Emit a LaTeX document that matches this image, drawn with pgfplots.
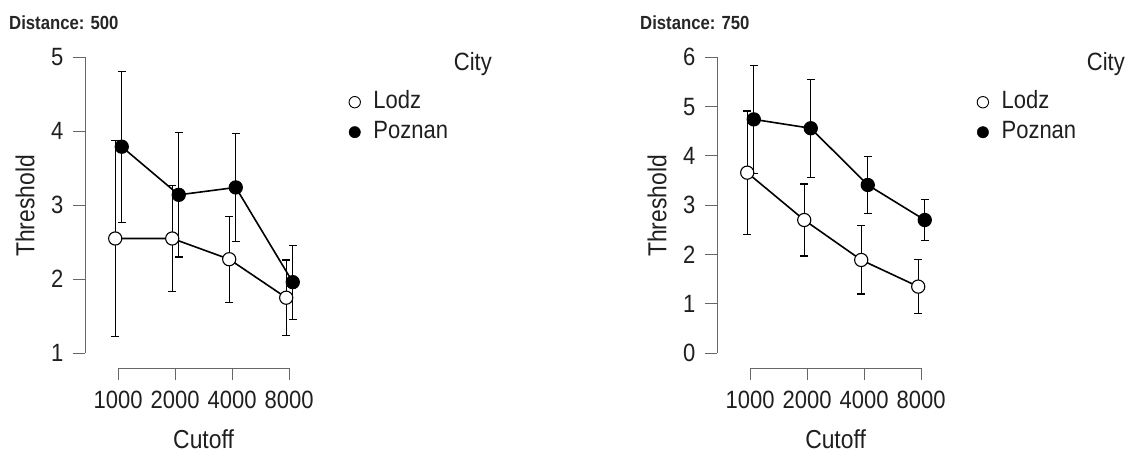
\documentclass[border=0pt]{standalone}
\usepackage{pgfplots}
\pgfplotsset{compat=1.18}
\usepackage{pgfplotstable}
\usepackage{fontspec}
\setmainfont{Liberation Sans}[FakeStretch=0.88]
\usetikzlibrary{calc}

\pgfplotstableread{
x y e
-0.05 2.55 1.33
0.95 2.55 0.72
1.95 2.27 0.58
2.95 1.75 0.51
}\lodzA
\pgfplotstableread{
x y e
0.065 3.79 1.02
1.065 3.14 0.84
2.065 3.24 0.73
3.065 1.96 0.50
}\poznanA
\pgfplotstableread{
x y e
-0.05 3.66 1.25
0.95 2.70 0.73
1.95 1.89 0.69
2.95 1.35 0.55
}\lodzB
\pgfplotstableread{
x y e
0.065 4.74 1.10
1.065 4.56 0.99
2.065 3.41 0.58
3.065 2.70 0.41
}\poznanB

\pgfplotsset{
 rstyle/.style={
  x=57pt,
  xmin=-0.58, xmax=3.4,
  axis lines*=left,
  axis line style={draw=none},
  tick align=outside,
  major tick length=12pt,
  tick style={black!60, line width=0.9pt},
  xtick={0,1,2,3}, xticklabels={1000,2000,4000,8000},
  clip=false,
  /pgf/number format/assume math mode=true,
  tick label style={font=\fontsize{25}{29}\selectfont, text=black!88},
  xticklabel style={yshift=-8pt},
  yticklabel style={xshift=-6pt},
  xlabel={Cutoff}, ylabel={Threshold},
  every axis x label/.style={at={($(rel axis cs:0.5226,0)+(0,-80pt)$)}, anchor=base, inner sep=0pt, text depth=0pt, font=\fontsize{26}{30}\selectfont, text=black!88},
  every axis y label/.style={at={($(rel axis cs:0,0)+(-60pt,162pt)$)}, rotate=90, anchor=center, font=\fontsize{26}{30}\selectfont, text=black!88},
  legend style={draw=none, fill=none, anchor=north west, inner sep=0pt,
    font=\fontsize{25}{29}\selectfont, text=black!88, row sep=10pt,
    nodes={inner sep=0pt, text height=16pt, text depth=4pt},
    /tikz/every odd column/.append style={column sep=13pt}},
  legend cell align=left,
 },
 lodz/.style={forget plot, black, line width=1.6pt, mark=*, mark size=6.6pt,
   mark options={fill=white, draw=black, line width=1.1pt},
   error bars/.cd, y dir=both, y explicit,
   error bar style={line width=1.1pt, black},
   error mark options={rotate=90, mark size=4pt, line width=1.1pt, black}},
 poznan/.style={forget plot, black, line width=1.6pt, mark=*, mark size=6.6pt,
   mark options={fill=black, draw=black, line width=1.1pt},
   error bars/.cd, y dir=both, y explicit,
   error bar style={line width=1.1pt, black},
   error mark options={rotate=90, mark size=4pt, line width=1.1pt, black}},
}

\begin{document}
\begin{tikzpicture}
\path[use as bounding box] (0,0) rectangle (1134pt,452pt);

\node[anchor=base west, font=\bfseries\fontsize{19}{22}\selectfont, text=black!85, inner sep=0pt] at (9pt,422pt) {Distance: 500};
\node[anchor=base west, font=\bfseries\fontsize{19}{22}\selectfont, text=black!85, inner sep=0pt] at (640pt,422pt) {Distance: 750};
\node[anchor=base east, font=\fontsize{25}{29}\selectfont, text=black!88, inner sep=0pt] at (492pt,381pt) {City};
\node[anchor=base east, font=\fontsize{25}{29}\selectfont, text=black!88, inner sep=0pt] at (1125pt,381pt) {City};

\begin{axis}[rstyle, at={(85pt,84pt)}, anchor=south west,
  y=74pt, ymin=0.8, ymax=5.05, ytick={1,2,3,4,5},
  legend style={at={(rel axis cs:1.163,0.8776)}}]
\addlegendimage{only marks, mark=*, mark size=5.7pt, mark options={fill=white, draw=black, line width=0.9pt}}
\addlegendentry{Lodz}
\addlegendimage{only marks, mark=*, mark size=5.7pt, mark options={fill=black, draw=black}}
\addlegendentry{Poznan}
\draw[black!60, line width=0.9pt] (axis cs:-0.58,1) -- (axis cs:-0.58,5);
\draw[black!60, line width=0.9pt] (axis cs:0,0.8) -- (axis cs:3,0.8);
\addplot[poznan] table[x=x, y=y, y error=e] {\poznanA};
\addplot[lodz] table[x=x, y=y, y error=e] {\lodzA};
\end{axis}

\begin{axis}[rstyle, at={(717pt,84pt)}, anchor=south west,
  y=49.33pt, ymin=-0.30, ymax=6.05, ytick={0,1,2,3,4,5,6},
  legend style={at={(rel axis cs:1.146,0.881)}}]
\addlegendimage{only marks, mark=*, mark size=5.7pt, mark options={fill=white, draw=black, line width=0.9pt}}
\addlegendentry{Lodz}
\addlegendimage{only marks, mark=*, mark size=5.7pt, mark options={fill=black, draw=black}}
\addlegendentry{Poznan}
\draw[black!60, line width=0.9pt] (axis cs:-0.58,0) -- (axis cs:-0.58,6);
\draw[black!60, line width=0.9pt] (axis cs:0,-0.30) -- (axis cs:3,-0.30);
\addplot[poznan] table[x=x, y=y, y error=e] {\poznanB};
\addplot[lodz] table[x=x, y=y, y error=e] {\lodzB};
\end{axis}
\end{tikzpicture}
\end{document}
